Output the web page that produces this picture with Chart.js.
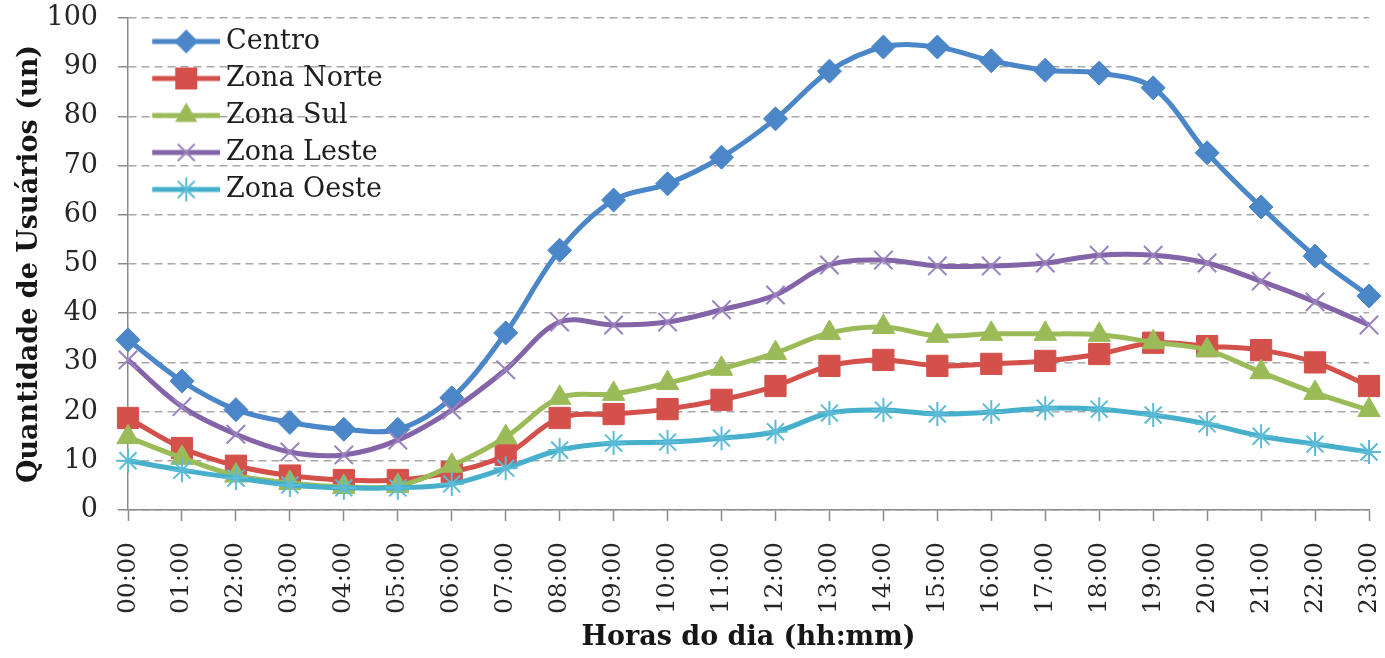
<!DOCTYPE html>
<html>
<head>
<meta charset="utf-8">
<script src="https://cdn.jsdelivr.net/npm/chart.js@4"></script>
<style>
  html, body { margin: 0; padding: 0; background: #ffffff; }
  #wrap { width: 1385px; height: 658px; position: relative; }
</style>
</head>
<body>
<div id="wrap"><canvas id="c"></canvas></div>
<script>
const hours = ["00:00","01:00","02:00","03:00","04:00","05:00","06:00","07:00","08:00","09:00","10:00","11:00",
               "12:00","13:00","14:00","15:00","16:00","17:00","18:00","19:00","20:00","21:00","22:00","23:00"];

const centro     = [34.6, 26.2, 20.4, 17.8, 16.4, 16.4, 22.8, 36.0, 52.8, 63.0, 66.3, 71.7, 79.5, 89.2, 94.1, 94.1, 91.3, 89.4, 88.8, 85.8, 72.6, 61.6, 51.6, 43.5];
const zonaNorte  = [18.7, 12.6,  9.0,  7.0,  6.1,  6.1,  7.7, 11.2, 18.7, 19.5, 20.5, 22.4, 25.2, 29.3, 30.5, 29.3, 29.7, 30.3, 31.7, 34.0, 33.3, 32.5, 30.0, 25.2];
const zonaSul    = [14.8, 10.6,  7.0,  5.5,  4.7,  4.9,  9.0, 14.8, 22.8, 23.6, 25.8, 28.7, 31.9, 36.0, 37.2, 35.4, 35.8, 35.8, 35.6, 34.1, 32.5, 28.0, 23.8, 20.3];
const zonaLeste  = [30.5, 21.0, 15.4, 11.8, 11.2, 14.2, 20.3, 28.5, 38.2, 37.6, 38.2, 40.7, 43.7, 49.8, 50.8, 49.6, 49.6, 50.2, 51.8, 51.8, 50.2, 46.5, 42.3, 37.6];
const zonaOeste  = [10.0,  8.1,  6.5,  5.1,  4.5,  4.5,  5.3,  8.5, 12.2, 13.6, 13.8, 14.6, 15.9, 19.7, 20.3, 19.5, 19.9, 20.7, 20.5, 19.3, 17.5, 15.0, 13.4, 11.8];

const seriesNames = ["Centro", "Zona Norte", "Zona Sul", "Zona Leste", "Zona Oeste"];
const yTicks = [0, 10, 20, 30, 40, 50, 60, 70, 80, 90, 100];

const colors = {
  blue:   '#4a86c8',
  red:    '#d4504a',
  green:  '#9bbb59',
  purple: '#8464a8',
  cyan:   '#46afcc'
};

// Legend icons: line segment + marker
function makeIcon(color, shape, markerColor) {
  const cv = document.createElement('canvas');
  cv.width = 90; cv.height = 30;
  const g = cv.getContext('2d');
  const cy = 15, cx = 56;
  g.strokeStyle = color; g.lineWidth = 5; g.lineCap = 'butt';
  g.beginPath(); g.moveTo(22, cy); g.lineTo(90, cy); g.stroke();
  g.fillStyle = markerColor; g.strokeStyle = markerColor;
  g.beginPath();
  if (shape === 'diamond') {
    const r = 12;
    g.moveTo(cx - r, cy); g.lineTo(cx, cy - r); g.lineTo(cx + r, cy); g.lineTo(cx, cy + r); g.closePath(); g.fill();
  } else if (shape === 'square') {
    const s = 11;
    g.rect(cx - s, cy - s, 2 * s, 2 * s); g.fill();
  } else if (shape === 'triangle') {
    const r = 13;
    g.moveTo(cx, cy - r); g.lineTo(cx + r * 0.866, cy + r * 0.5); g.lineTo(cx - r * 0.866, cy + r * 0.5); g.closePath(); g.fill();
  } else if (shape === 'x') {
    const r = 12 * 0.7071; g.lineWidth = 2;
    g.moveTo(cx - r, cy - r); g.lineTo(cx + r, cy + r); g.moveTo(cx + r, cy - r); g.lineTo(cx - r, cy + r); g.stroke();
  } else if (shape === 'star') {
    const r = 12, d = 12 * 0.7071; g.lineWidth = 2;
    g.moveTo(cx, cy - r); g.lineTo(cx, cy + r);
    g.moveTo(cx - d, cy - d); g.lineTo(cx + d, cy + d); g.moveTo(cx + d, cy - d); g.lineTo(cx - d, cy + d); g.stroke();
  }
  return cv;
}

const icons = [
  makeIcon(colors.blue, 'diamond', colors.blue),
  makeIcon(colors.red, 'square', colors.red),
  makeIcon(colors.green, 'triangle', colors.green),
  makeIcon(colors.purple, 'x', '#9a82bf'),
  makeIcon(colors.cyan, 'star', '#5cbcd6')
];

const serif = "'DejaVu Serif', 'Liberation Serif', serif";

function ds(label, data, color, pointStyle, radius, pColor, pBorderW, order) {
  return {
    label, data,
    borderColor: color,
    backgroundColor: pColor,
    borderWidth: 5,
    pointStyle,
    pointRadius: radius,
    pointBackgroundColor: pColor,
    pointBorderColor: pColor,
    pointBorderWidth: pBorderW,
    tension: 0.35,
    fill: false,
    order
  };
}

const datasets = [
  ds(seriesNames[0], centro,    colors.blue,   'rectRot',  12, colors.blue,  1, 5),
  ds(seriesNames[1], zonaNorte, colors.red,    'rect',     15, colors.red,   1, 4),
  ds(seriesNames[2], zonaSul,   colors.green,  'triangle', 13, colors.green, 1, 3),
  ds(seriesNames[3], zonaLeste, colors.purple, 'crossRot', 13, '#9a82bf',    2, 2),
  ds(seriesNames[4], zonaOeste, colors.cyan,   'star',     12, '#5cbcd6',    2, 1)
];

// keep the in-chart legend aligned with the top of the plot area
const legendTopFix = {
  id: 'legendTopFix',
  beforeDraw(chart) {
    if (chart.legend) {
      chart.legend.top = chart.chartArea.top;
      chart.legend.bottom = chart.chartArea.bottom;
    }
  }
};

new Chart(document.getElementById('c'), {
  type: 'line',
  data: { labels: hours, datasets },
  plugins: [legendTopFix],
  options: {
    responsive: true,
    maintainAspectRatio: false,
    animation: false,
    events: [],
    layout: { padding: 0 },
    plugins: {
      tooltip: { enabled: false },
      legend: {
        display: true,
        position: 'chartArea',
        align: 'start',
        labels: {
          usePointStyle: true,
          pointStyleWidth: 74.5,
          padding: 10,
          color: '#1e1e1e',
          font: { family: serif, size: 27 },
          generateLabels(chart) {
            const items = Chart.defaults.plugins.legend.labels.generateLabels(chart);
            items.sort((a, b) => a.datasetIndex - b.datasetIndex);
            items.forEach(it => { it.pointStyle = icons[it.datasetIndex]; });
            return items;
          }
        }
      }
    },
    scales: {
      x: {
        type: 'category',
        offset: false,
        afterFit(scale) {
          scale.height = 148;
          scale.paddingLeft = 0;
          scale.paddingRight = 12;
        },
        grid: {
          display: true,
          drawOnChartArea: false,
          drawTicks: true,
          tickLength: 11,
          tickColor: '#8a8a8a',
          tickWidth: 1.5,
          offset: false
        },
        border: { display: true, color: '#8a8a8a', width: 1.5 },
        ticks: {
          autoSkip: false,
          maxRotation: 90,
          minRotation: 90,
          padding: 21,
          color: '#262626',
          font: { family: serif, size: 25 }
        },
        title: {
          display: true,
          text: 'Horas do dia (hh:mm)',
          color: '#161616',
          font: { family: serif, size: 27, weight: 'bold' },
          padding: { top: 0, bottom: 4 }
        }
      },
      y: {
        min: 0,
        max: 100,
        afterFit(scale) {
          scale.width = 128;
          scale.paddingTop = 18;
          scale.paddingBottom = 0;
        },
        afterBuildTicks(scale) { scale.ticks = yTicks.map(v => ({ value: v })); },
        grid: {
          color: '#a8a8a8',
          lineWidth: 1.5,
          drawTicks: true,
          tickLength: 10,
          tickColor: '#8a8a8a',
          tickWidth: 1.5,
          tickBorderDash: []
        },
        border: { display: true, color: '#8a8a8a', width: 1.5, dash: [8, 5] },
        ticks: {
          padding: 20,
          color: '#262626',
          font: { family: serif, size: 27 }
        },
        title: {
          display: true,
          text: 'Quantidade de Usuários (un)',
          color: '#161616',
          font: { family: serif, size: 27, weight: 'bold' },
          padding: { top: 14, bottom: 0 }
        }
      }
    }
  }
});
</script>
</body>
</html>
